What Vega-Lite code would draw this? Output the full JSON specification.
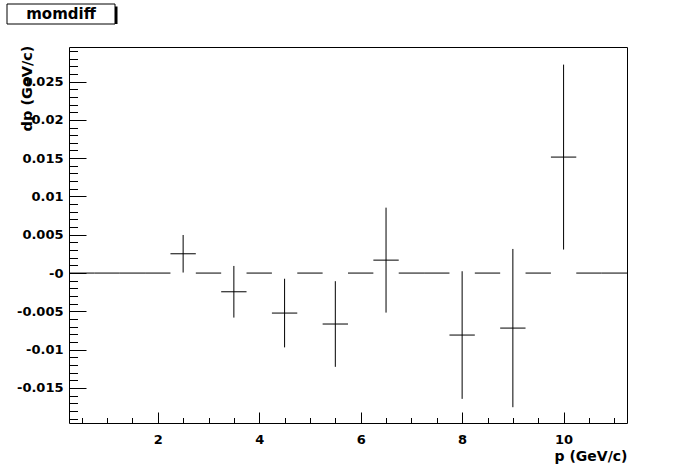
{
  "$schema": "https://vega.github.io/schema/vega-lite/v6.json",
  "padding": {"left": 6, "top": 3, "right": 5, "bottom": 5},
  "background": "white",
  "config": {"font": "DejaVu Sans", "view": {"stroke": "black", "strokeWidth": 1}},
  "spacing": 19,
  "vconcat": [
    {
      "width": 108,
      "height": 20,
      "view": {"stroke": null},
      "data": {"values": [{"label": "momdiff"}]},
      "layer": [
        {
          "mark": {"type": "rect", "fill": "black", "stroke": null, "xOffset": 2.5, "x2Offset": 2.5, "yOffset": 2.5, "y2Offset": 2.5}
        },
        {
          "mark": {"type": "rect", "fill": "white", "stroke": "black", "strokeWidth": 1}
        },
        {
          "mark": {"type": "text", "font": "DejaVu Sans", "fontWeight": "bold", "fontSize": 15, "color": "black"},
          "encoding": {"text": {"field": "label", "type": "nominal"}}
        }
      ]
    },
    {
      "spacing": 7,
      "hconcat": [
        {
          "width": 1,
          "height": 1,
          "view": {"stroke": null},
          "data": {"values": []},
          "mark": "point"
        },
        {
          "width": 558,
          "height": 376,
          "data": {
            "values": [
              {"p": 0.5, "plo": 0.25, "phi": 0.75, "dp": 0, "lo": 0, "hi": 0},
              {"p": 1.0, "plo": 0.75, "phi": 1.25, "dp": 0, "lo": 0, "hi": 0},
              {"p": 1.5, "plo": 1.25, "phi": 1.75, "dp": 0, "lo": 0, "hi": 0},
              {"p": 2.0, "plo": 1.75, "phi": 2.25, "dp": 0, "lo": 0, "hi": 0},
              {"p": 2.5, "plo": 2.25, "phi": 2.75, "dp": 0.00252, "lo": 0.00007, "hi": 0.00497},
              {"p": 3.0, "plo": 2.75, "phi": 3.25, "dp": 0, "lo": 0, "hi": 0},
              {"p": 3.5, "plo": 3.25, "phi": 3.75, "dp": -0.00244, "lo": -0.00581, "hi": 0.00093},
              {"p": 4.0, "plo": 3.75, "phi": 4.25, "dp": 0, "lo": 0, "hi": 0},
              {"p": 4.5, "plo": 4.25, "phi": 4.75, "dp": -0.00522, "lo": -0.0097, "hi": -0.00074},
              {"p": 5.0, "plo": 4.75, "phi": 5.25, "dp": 0, "lo": 0, "hi": 0},
              {"p": 5.5, "plo": 5.25, "phi": 5.75, "dp": -0.00665, "lo": -0.01224, "hi": -0.00106},
              {"p": 6.0, "plo": 5.75, "phi": 6.25, "dp": 0, "lo": 0, "hi": 0},
              {"p": 6.5, "plo": 6.25, "phi": 6.75, "dp": 0.00169, "lo": -0.00516, "hi": 0.00854},
              {"p": 7.0, "plo": 6.75, "phi": 7.25, "dp": 0, "lo": 0, "hi": 0},
              {"p": 7.5, "plo": 7.25, "phi": 7.75, "dp": 0, "lo": 0, "hi": 0},
              {"p": 8.0, "plo": 7.75, "phi": 8.25, "dp": -0.00809, "lo": -0.01642, "hi": 0.00024},
              {"p": 8.5, "plo": 8.25, "phi": 8.75, "dp": 0, "lo": 0, "hi": 0},
              {"p": 9.0, "plo": 8.75, "phi": 9.25, "dp": -0.00718, "lo": -0.01751, "hi": 0.00315},
              {"p": 9.5, "plo": 9.25, "phi": 9.75, "dp": 0, "lo": 0, "hi": 0},
              {"p": 10.0, "plo": 9.75, "phi": 10.25, "dp": 0.01514, "lo": 0.00307, "hi": 0.02721},
              {"p": 10.5, "plo": 10.25, "phi": 10.75, "dp": 0, "lo": 0, "hi": 0},
              {"p": 11.0, "plo": 10.75, "phi": 11.25, "dp": 0, "lo": 0, "hi": 0}
            ]
          },
          "layer": [
            {
              "mark": {"type": "rule", "color": "black", "strokeWidth": 1},
              "encoding": {
                "x": {
                  "field": "p",
                  "type": "quantitative",
                  "scale": {"domain": [0.25, 11.25], "nice": false, "zero": false},
                  "axis": {
                    "orient": "bottom",
                    "values": [2, 4, 6, 8, 10],
                    "tickSize": -11,
                    "tickColor": "black",
                    "tickWidth": 1,
                    "domain": false,
                    "grid": false,
                    "labelFont": "DejaVu Sans",
                    "labelFontWeight": "bold",
                    "labelFontSize": 13,
                    "labelColor": "black",
                    "labelPadding": 21,
                    "labelFlush": false,
                    "labelOverlap": false,
                    "title": "p (GeV/c)",
                    "titleFont": "DejaVu Sans",
                    "titleFontWeight": "bold",
                    "titleFontSize": 14,
                    "titleColor": "black",
                    "titleX": 558,
                    "titleY": 37,
                    "titleAlign": "right",
                    "titleAnchor": null,
                    "titleBaseline": "alphabetic"
                  }
                },
                "y": {
                  "field": "lo",
                  "type": "quantitative",
                  "scale": {"domain": [-0.01957, 0.02951], "nice": false, "zero": false},
                  "axis": {
                    "orient": "left",
                    "values": [-0.015, -0.01, -0.005, 0, 0.005, 0.01, 0.015, 0.02, 0.025],
                    "tickSize": -17,
                    "tickColor": "black",
                    "tickWidth": 1,
                    "domain": false,
                    "grid": false,
                    "labelFont": "DejaVu Sans",
                    "labelFontWeight": "bold",
                    "labelFontSize": 13,
                    "labelColor": "black",
                    "labelPadding": 23,
                    "labelFlush": false,
                    "labelOverlap": false,
                    "labelExpr": "datum.value == 0 ? '-0' : '' + (round(datum.value * 1000) / 1000)",
                    "title": "dp (GeV/c)",
                    "titleFont": "DejaVu Sans",
                    "titleFontWeight": "bold",
                    "titleFontSize": 14.5,
                    "titleColor": "black",
                    "titleAngle": 270,
                    "titleX": -42,
                    "titleY": -2,
                    "titleAlign": "right",
                    "titleAnchor": null,
                    "titleBaseline": "middle"
                  }
                },
                "y2": {"field": "hi"}
              }
            },
            {
              "mark": {"type": "rule", "color": "black", "strokeWidth": 1},
              "encoding": {
                "x": {
                  "field": "plo",
                  "type": "quantitative",
                  "axis": {
                    "orient": "bottom",
                    "values": [0.5, 1, 1.5, 2, 2.5, 3, 3.5, 4, 4.5, 5, 5.5, 6, 6.5, 7, 7.5, 8, 8.5, 9, 9.5, 10, 10.5, 11],
                    "tickSize": -5.5,
                    "tickColor": "black",
                    "tickWidth": 1,
                    "domain": false,
                    "grid": false,
                    "labels": false,
                    "title": null
                  }
                },
                "x2": {"field": "phi"},
                "y": {
                  "field": "dp",
                  "type": "quantitative",
                  "axis": {
                    "orient": "left",
                    "values": [-0.019, -0.018, -0.017, -0.016, -0.015, -0.014, -0.013, -0.012, -0.011, -0.01, -0.009, -0.008, -0.007, -0.006, -0.005, -0.004, -0.003, -0.002, -0.001, 0, 0.001, 0.002, 0.003, 0.004, 0.005, 0.006, 0.007, 0.008, 0.009, 0.01, 0.011, 0.012, 0.013, 0.014, 0.015, 0.016, 0.017, 0.018, 0.019, 0.02, 0.021, 0.022, 0.023, 0.024, 0.025, 0.026, 0.027, 0.028, 0.029],
                    "tickSize": -8.5,
                    "tickColor": "black",
                    "tickWidth": 1,
                    "domain": false,
                    "grid": false,
                    "labels": false,
                    "title": null
                  }
                }
              }
            }
          ],
          "resolve": {"axis": {"x": "independent", "y": "independent"}}
        }
      ]
    }
  ]
}
